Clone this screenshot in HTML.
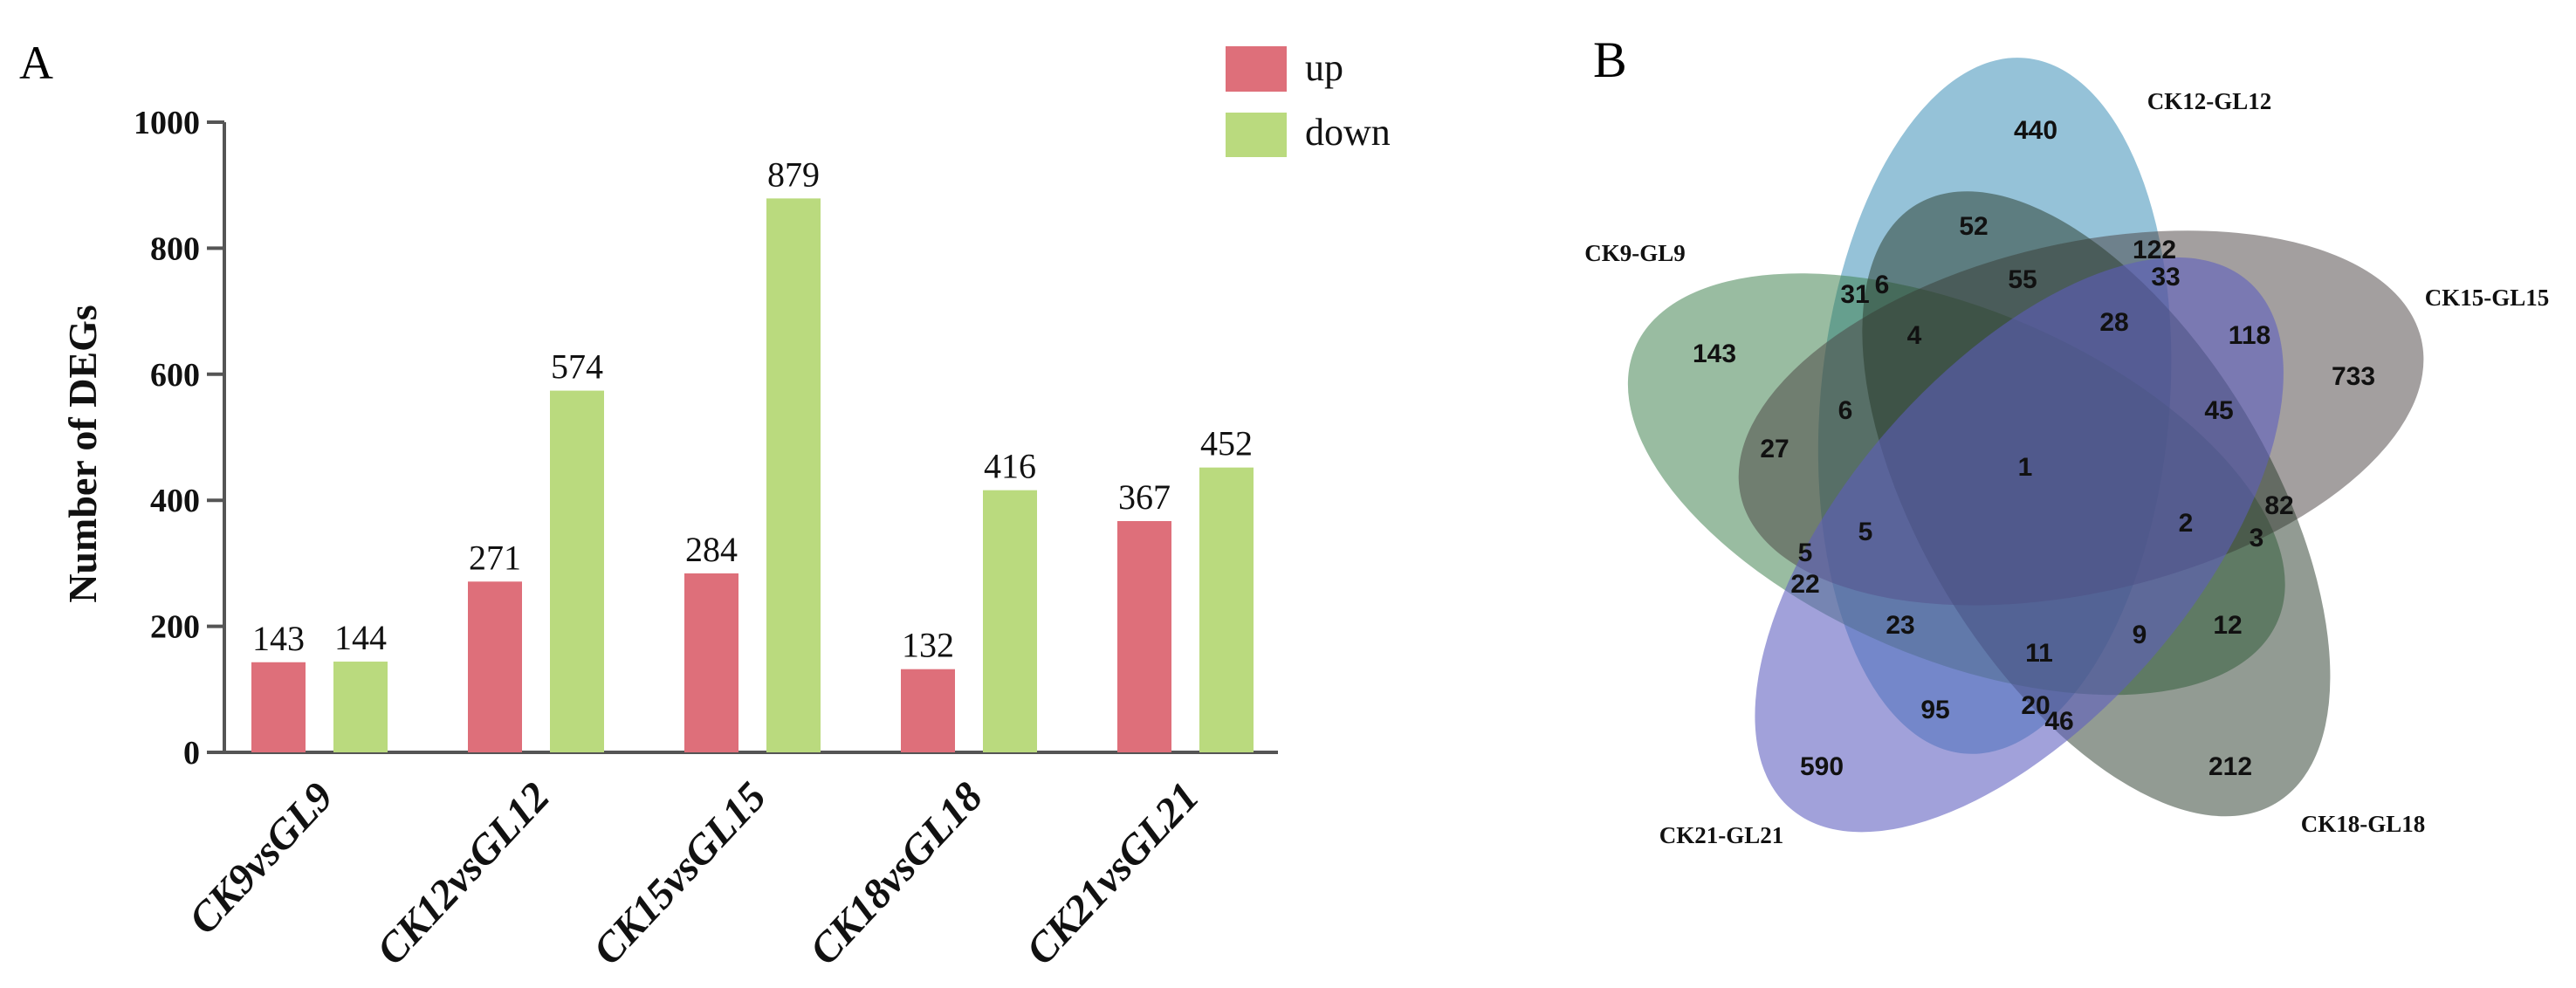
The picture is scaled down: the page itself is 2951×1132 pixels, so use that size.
<!DOCTYPE html>
<html><head><meta charset="utf-8"><style>
html,body{margin:0;padding:0;background:#fff;}
svg{display:block;}
</style></head><body>
<svg id="fig" width="2951" height="1132" viewBox="0 0 2951 1132" xmlns="http://www.w3.org/2000/svg">
<rect width="2951" height="1132" fill="#fff"/>
<text x="22" y="90" font-family="Liberation Serif, serif" font-size="54">A</text>
<text x="1825" y="88" font-family="Liberation Serif, serif" font-size="58">B</text>
<g id="bars"></g>
<g id="venn"></g>
</svg>
<script>
const categories = ["CK9vsGL9","CK12vsGL12","CK15vsGL15","CK18vsGL18","CK21vsGL21"];
const upValues = [143,271,284,132,367];
const downValues = [144,574,879,416,452];
const yTicks = [0,200,400,600,800,1000];

const vennSets = ["CK12-GL12","CK9-GL9","CK21-GL21","CK18-GL18","CK15-GL15"];
const vennCounts = ["440","52","122","33","55","31","6","28","118","4","143","733","6","45","27","1","82","2","5","3","5","22","23","12","9","11","95","20","46","212","590"];

const NS="http://www.w3.org/2000/svg";
function mk(tag,attrs,parent){const e=document.createElementNS(NS,tag);for(const k in attrs)e.setAttribute(k,attrs[k]);parent.appendChild(e);return e;}

// ---- bar chart ----
const bars=document.getElementById('bars');
const x0=257, x1=1464, yBase=862, yTop=140, yMax=1000;
const yScale=v=>yBase-(v/yMax)*(yBase-yTop);
const groupStart=i=>288+i*248;
const barW=62, downOff=94;
let ax=mk('line',{x1:x0,y1:yTop,x2:x0,y2:yBase,stroke:'#555','stroke-width':4},bars);


let bx=mk('line',{x1:x0-12,y1:yBase,x2:x1,y2:yBase,stroke:'#555','stroke-width':4},bars);


yTicks.forEach(t=>{
  const y=yScale(t);
  const tk=mk('line',{x1:x0-20,y1:y,x2:x0,y2:y,stroke:'#555','stroke-width':4},bars);
  
  
  const tl=mk('text',{x:x0-28,y:y+13,'text-anchor':'end','font-family':'Liberation Serif, serif','font-weight':'bold','font-size':38,fill:'#111'},bars);
  tl.textContent=t;
  
  
});
const yt=mk('text',{x:0,y:0,transform:'translate(110,520) rotate(-90)','text-anchor':'middle','font-family':'Liberation Serif, serif','font-weight':'bold','font-size':46,fill:'#111','xml:space':'preserve'},bars);
yt.textContent='Number of  DEGs';


categories.forEach((c,i)=>{
  const gx=groupStart(i);
  const uy=yScale(upValues[i]);
  const ub=mk('rect',{x:gx,y:uy,width:barW,height:yBase-uy,fill:'#de6f7a'},bars);
  
  
  const ul=mk('text',{x:gx+barW/2,y:uy-14,'text-anchor':'middle','font-family':'Liberation Serif, serif','font-size':40,fill:'#111'},bars);
  ul.textContent=upValues[i];
  
  
  const dy=yScale(downValues[i]);
  const db=mk('rect',{x:gx+downOff,y:dy,width:barW,height:yBase-dy,fill:'#bada7e'},bars);
  
  
  const dl=mk('text',{x:gx+downOff+barW/2,y:dy-14,'text-anchor':'middle','font-family':'Liberation Serif, serif','font-size':40,fill:'#111'},bars);
  dl.textContent=downValues[i];
  
  
  const cx=gx+(downOff+barW)/2+18, cy=915;
  const cl=mk('text',{x:0,y:0,transform:`translate(${cx},${cy}) rotate(-47)`,'text-anchor':'end','font-family':'Liberation Serif, serif','font-weight':'bold','font-style':'italic','font-size':48,fill:'#111'},bars);
  cl.textContent=c;
  
  
});
// legend
const lu=mk('rect',{x:1404,y:53,width:70,height:52,fill:'#de6f7a'},bars);


const lut=mk('text',{x:1495,y:92,'font-family':'Liberation Serif, serif','font-size':44,fill:'#111'},bars);
lut.textContent='up';


const ld=mk('rect',{x:1404,y:129,width:70,height:51,fill:'#bada7e'},bars);


const ldt=mk('text',{x:1495,y:166,'font-family':'Liberation Serif, serif','font-size':44,fill:'#111'},bars);
ldt.textContent='down';



// ---- venn ----
const venn=document.getElementById('venn');
const C=[2325,540], r=85, A=400, B=200;
const baseAngle=95, baseDir=-118;
const colors=['#338ab4','#3c7e4b','#5d5dc0','#263828','#473f3f'];
const opac=[0.52,0.52,0.58,0.5,0.5];
const ellOrder=[0,1,4,3,2];
ellOrder.forEach(k=>{
  const ang=baseAngle-72*k, dir=(baseDir-72*k)*Math.PI/180;
  const cx=C[0]+r*Math.cos(dir), cy=C[1]+r*Math.sin(dir);
  const e=mk('ellipse',{cx:cx,cy:cy,rx:A,ry:B,transform:`rotate(${ang} ${cx} ${cy})`,fill:colors[k],'fill-opacity':opac[k]},venn);
  
  
});
const countPos=[[2332,148],[2261,258],[2468,285],[2481,316],[2317,319],[2125,336],[2156,325],[2422,368],[2577,383],[2193,383],[1964,404],[2696,430],[2114,469],[2542,469],[2033,513],[2320,534],[2611,578],[2504,598],[2137,608],[2585,615],[2068,632],[2068,668],[2177,715],[2552,715],[2451,726],[2336,747],[2217,812],[2332,807],[2359,825],[2555,877],[2087,877]];
vennCounts.forEach((v,i)=>{
  const t=mk('text',{x:countPos[i][0],y:countPos[i][1]+11,'text-anchor':'middle','font-family':'Liberation Sans, sans-serif','font-weight':'bold','font-size':30,fill:'#111'},venn);
  t.textContent=v;
  
  
});
const setLabelPos=[[2531,116],[1873,290],[1972,957],[2707,944],[2849,341]];
vennSets.forEach((s,i)=>{
  const t=mk('text',{x:setLabelPos[i][0],y:setLabelPos[i][1]+9,'text-anchor':'middle','font-family':'Liberation Serif, serif','font-weight':'bold','font-size':27,fill:'#111'},venn);
  t.textContent=s;
  
  
});
</script>
</body></html>
